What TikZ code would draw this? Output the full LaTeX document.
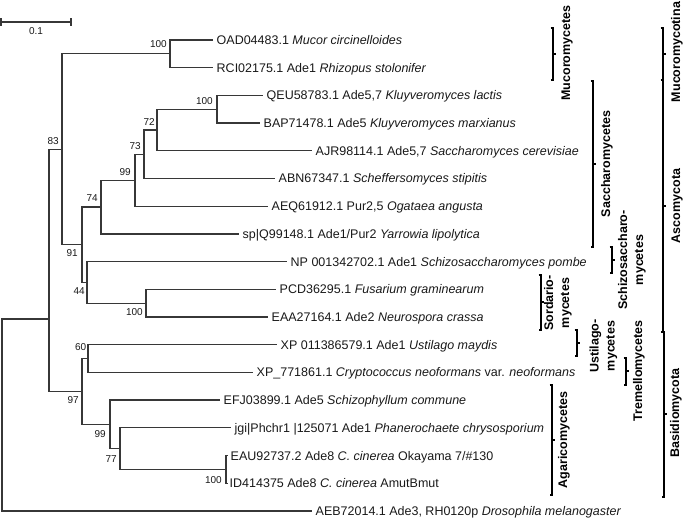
\documentclass[tikz,border=0pt]{standalone}
\usepackage{fontspec}
\setmainfont{Liberation Sans}
\definecolor{treecol}{RGB}{55,55,55}
\definecolor{txtcol}{RGB}{25,25,25}
\newcommand{\cladebar}[4]{%
  \draw[cbar] (#1-2.5,#2) -- (#1,#2) -- (#1,#3) -- (#1-2.5,#3);
  \draw[cbar] (#1,#4) -- (#1+3,#4);}
\begin{document}
\begin{tikzpicture}[x=1pt,y=-1pt,
  edge/.style={line width=1.25pt, draw=treecol, line join=miter},
  cbar/.style={line width=1.3pt, draw=black},
  leaf/.style={anchor=base west, inner sep=0pt, text=txtcol, font=\fontsize{12.5}{15}\selectfont},
  boot/.style={anchor=base east, inner sep=0pt, text=txtcol, font=\fontsize{10}{12}\selectfont},
  clade/.style={rotate=90, anchor=center, inner sep=0pt, align=center, text=black, font=\bfseries\fontsize{12.5}{16}\selectfont}]
\useasboundingbox (0,0) rectangle (685,518);
% scale bar
\coordinate (sb1) at (1,22);
\coordinate (sb2) at (71,22);
\draw[edge] (sb1) -- (sb2);
\draw[edge] (1,18.5) -- (1,26);
\draw[edge] (71,18.5) -- (71,26);
\node[boot, anchor=base] (sbl) at (36,35) {0.1};
% leaf ends
\coordinate (l1) at (213,40);
\coordinate (l2) at (213,67.7);
\coordinate (l3) at (263,95.4);
\coordinate (l4) at (260,123.1);
\coordinate (l5) at (312,150.8);
\coordinate (l6) at (275,178.5);
\coordinate (l7) at (268,206.2);
\coordinate (l8) at (239,233.9);
\coordinate (l9) at (287,261.6);
\coordinate (l10) at (276,289.3);
\coordinate (l11) at (268,317);
\coordinate (l12) at (277,344.7);
\coordinate (l13) at (253,372.4);
\coordinate (l14) at (220,400.1);
\coordinate (l15) at (231,427.8);
\coordinate (l16) at (227.5,455.5);
\coordinate (l17) at (227.5,483.2);
\coordinate (l18) at (312,510.9);
% internal nodes
\coordinate (root) at (2,415);
\coordinate (n49) at (49,319);
\coordinate (n83) at (62,149.3);
\coordinate (nMuc) at (170,53.85);
\coordinate (n91) at (82,244.7);
\coordinate (n74) at (101,207.05);
\coordinate (n99) at (135,180.2);
\coordinate (n73) at (144,154.25);
\coordinate (n72) at (157,130);
\coordinate (nK) at (217,109.25);
\coordinate (n44) at (87,282.4);
\coordinate (nS) at (146,303.15);
\coordinate (n97) at (82,391.45);
\coordinate (n60) at (88,358.55);
\coordinate (n99b) at (110,424.35);
\coordinate (n77) at (120,448.6);
\coordinate (nC) at (226,469.35);
% edges
\draw[edge] (root) |- (n49);
\draw[edge] (root) |- (l18);
\draw[edge] (n49) |- (n83);
\draw[edge] (n49) |- (n97);
\draw[edge] (n83) |- (nMuc);
\draw[edge] (n83) |- (n91);
\draw[edge] (nMuc) |- (l1);
\draw[edge] (nMuc) |- (l2);
\draw[edge] (n91) |- (n74);
\draw[edge] (n91) |- (n44);
\draw[edge] (n74) |- (n99);
\draw[edge] (n74) |- (l8);
\draw[edge] (n99) |- (n73);
\draw[edge] (n99) |- (l7);
\draw[edge] (n73) |- (n72);
\draw[edge] (n73) |- (l6);
\draw[edge] (n72) |- (nK);
\draw[edge] (n72) |- (l5);
\draw[edge] (nK) |- (l3);
\draw[edge] (nK) |- (l4);
\draw[edge] (n44) |- (l9);
\draw[edge] (n44) |- (nS);
\draw[edge] (nS) |- (l10);
\draw[edge] (nS) |- (l11);
\draw[edge] (n97) |- (n60);
\draw[edge] (n97) |- (n99b);
\draw[edge] (n60) |- (l12);
\draw[edge] (n60) |- (l13);
\draw[edge] (n99b) |- (l14);
\draw[edge] (n99b) |- (n77);
\draw[edge] (n77) |- (l15);
\draw[edge] (n77) |- (nC);
\draw[edge] (nC) |- (l16);
\draw[edge] (nC) |- (l17);
% leaf labels
\path (l1) ++(3.5,4.5) node[leaf] (t1) {OAD04483.1 \textit{Mucor circinelloides}};
\path (l2) ++(3.5,4.5) node[leaf] (t2) {RCI02175.1 Ade1 \textit{Rhizopus stolonifer}};
\path (l3) ++(3.5,4.5) node[leaf] (t3) {QEU58783.1 Ade5,7 \textit{Kluyveromyces lactis}};
\path (l4) ++(3.5,4.5) node[leaf] (t4) {BAP71478.1 Ade5 \textit{Kluyveromyces marxianus}};
\path (l5) ++(3.5,4.5) node[leaf] (t5) {AJR98114.1 Ade5,7 \textit{Saccharomyces cerevisiae}};
\path (l6) ++(3.5,4.5) node[leaf] (t6) {ABN67347.1 \textit{Scheffersomyces stipitis}};
\path (l7) ++(3.5,4.5) node[leaf] (t7) {AEQ61912.1 Pur2,5 \textit{Ogataea angusta}};
\path (l8) ++(3.5,4.5) node[leaf] (t8) {sp|Q99148.1 Ade1/Pur2 \textit{Yarrowia lipolytica}};
\path (l9) ++(3.5,4.5) node[leaf] (t9) {NP 001342702.1 Ade1 \textit{Schizosaccharomyces pombe}};
\path (l10) ++(3.5,4.5) node[leaf] (t10) {PCD36295.1 \textit{Fusarium graminearum}};
\path (l11) ++(3.5,4.5) node[leaf] (t11) {EAA27164.1 Ade2 \textit{Neurospora crassa}};
\path (l12) ++(3.5,4.5) node[leaf] (t12) {XP 011386579.1 Ade1 \textit{Ustilago maydis}};
\path (l13) ++(3.5,4.5) node[leaf] (t13) {XP\_771861.1 \textit{Cryptococcus neoformans} var. \textit{neoformans}};
\path (l14) ++(3.5,4.5) node[leaf] (t14) {EFJ03899.1 Ade5 \textit{Schizophyllum commune}};
\path (l15) ++(3.5,4.5) node[leaf] (t15) {jgi|Phchr1 |125071 Ade1 \textit{Phanerochaete chrysosporium}};
\path (l16) ++(3,4.5) node[leaf] (t16) {EAU92737.2 Ade8 \textit{C. cinerea} Okayama 7/\#130};
\path (l17) ++(2,4.5) node[leaf] (t17) {ID414375 Ade8 \textit{C. cinerea} AmutBmut};
\path (l18) ++(3.5,4.5) node[leaf] (t18) {AEB72014.1 Ade3, RH0120p \textit{Drosophila melanogaster}};
% bootstrap values
\node[boot] (b1) at (167,48) {100};
\node[boot] (b2) at (59,144.5) {83};
\node[boot] (b3) at (213,104.5) {100};
\node[boot] (b4) at (155,126) {72};
\node[boot] (b5) at (141,150) {73};
\node[boot] (b6) at (131,176) {99};
\node[boot] (b7) at (98,202) {74};
\node[boot] (b8) at (78,257) {91};
\node[boot] (b9) at (85,295) {44};
\node[boot] (b10) at (143,316) {100};
\node[boot] (b11) at (86.5,350.5) {60};
\node[boot] (b12) at (79,403) {97};
\node[boot] (b13) at (106,437) {99};
\node[boot] (b14) at (117,462.5) {77};
\node[boot] (b15) at (222,483) {100};
% clade brackets
\cladebar{553}{28}{80}{54}
\cladebar{663}{28}{80}{54}
\cladebar{593}{81}{247}{164}
\cladebar{663}{80}{332}{206}
\cladebar{612}{247}{273}{260}
\cladebar{541}{275}{330}{302}
\cladebar{577}{330}{356}{343}
\cladebar{626}{358}{385}{371}
\cladebar{552}{385}{495}{440}
\cladebar{664}{332}{497}{414}
% clade labels
\node[clade] (c1) at (567,53) {Mucoromycetes};
\node[clade] (c2) at (677,52) {Mucoromycotina};
\node[clade] (c3) at (607,164) {Saccharomycetes};
\node[clade] (c4) at (677,206) {Ascomycota};
\node[clade] (c5) at (632,260) {Schizosaccharo-\\mycetes};
\node[clade] (c6) at (558,303) {Sordario-\\mycetes};
\node[clade] (c7) at (603.5,346) {Ustilago-\\mycetes};
\node[clade] (c8) at (639,371) {Tremellomycetes};
\node[clade] (c9) at (564,440) {Agaricomycetes};
\node[clade] (c10) at (676,413) {Basidiomycota};
\end{tikzpicture}
\end{document}
